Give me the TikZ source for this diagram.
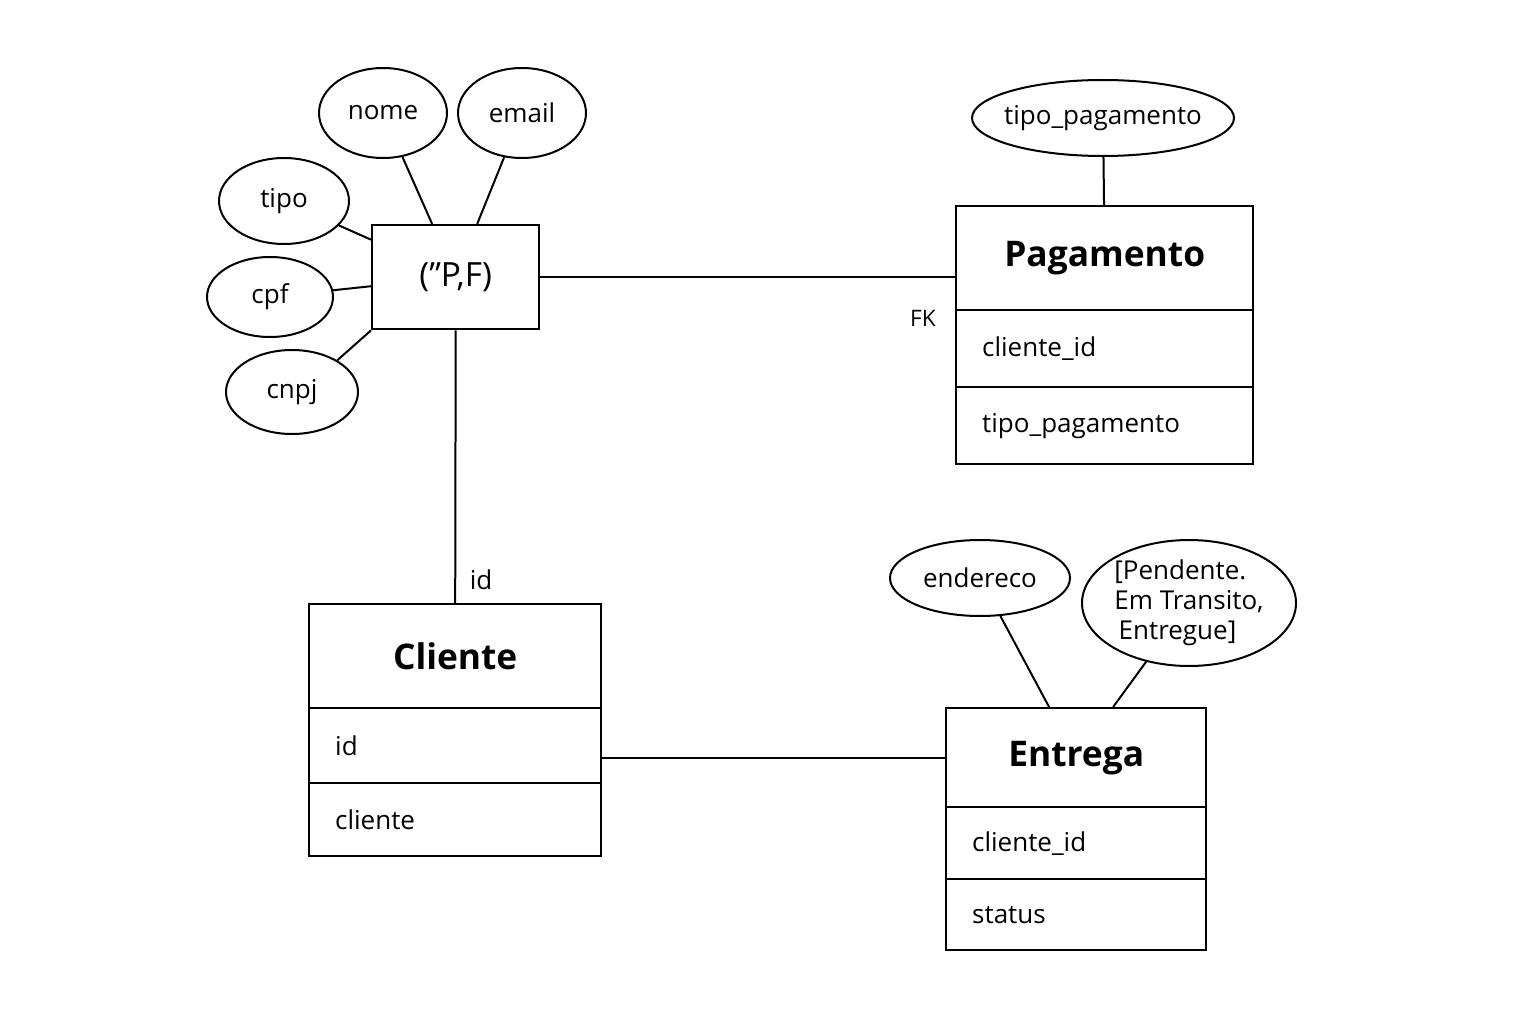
\documentclass[tikz,border=0pt]{standalone}
\usepackage{fontspec}
\setmainfont{Open Sans}
\usetikzlibrary{shapes.geometric}

\tikzset{every picture/.style={line width=1.5pt}}
\tikzset{
  attr/.style={draw, ellipse, inner sep=0pt, font=\fontsize{19.5}{23}\selectfont},
  ent/.style={draw, rectangle, line width=1.8pt, anchor=north west, inner sep=0pt, font=\fontsize{26.5}{30}\selectfont\bfseries},
  field/.style={draw, rectangle, line width=1.8pt, anchor=north west, inner ysep=0pt, inner xsep=19.5pt, align=left, font=\fontsize{19.5}{23}\selectfont},
  tag/.style={inner sep=0.75pt, font=\fontsize{19.5}{23}\selectfont}
}

\begin{document}
\begin{tikzpicture}[x=0.75pt,y=0.75pt,yscale=-1,xscale=1]
        \useasboundingbox (0,0) rectangle (1536,1024);

        % Entidade PF
        \node[ent, font=\fontsize{25}{28}\selectfont, minimum width=125.25pt, minimum height=78pt] (pf) at (371,224) {(\symbol{34}P,F)};
        % Atributos PF
        \node[attr, minimum width=96pt, minimum height=67.5pt] (nome) at (383,113) {nome};
        \node[attr, minimum width=96pt, minimum height=67.5pt] (email) at (522,113) {email};
        \node[attr, minimum width=97.5pt, minimum height=64.5pt] (tipo) at (284,201) {tipo};
        \node[attr, minimum width=94.5pt, minimum height=60pt] (cpf) at (270,297) {cpf};
        \node[attr, minimum width=99pt, minimum height=63pt] (cnpj) at (292,392) {cnpj};

        \draw (nome) -- (pf);
        \draw (email) -- (pf);
        \draw (tipo) -- (pf);
        \draw (cpf) -- (pf);
        \draw (cnpj.35) -- (pf.south west);

        % Tabela Pagamento
        \node[ent, minimum width=222.75pt, minimum height=78pt] (pag) at (955,205) {Pagamento};
        \node[field, text width=183.75pt, minimum height=57.75pt] (pag1) at (955,309) {cliente\_id};
        \node[field, text width=183.75pt, minimum height=57.75pt] (pag2) at (955,386) {tipo\_pagamento};
        \node[attr, minimum width=196.5pt, minimum height=57pt] (tpag) at (1103,118) {\makebox[100pt]{tipo\_pagamento}};
        \draw (tpag) -- (pag);
        \node[tag, font=\fontsize{17}{20}\selectfont] (fk) at (923,318) {FK};

        % Tabela Cliente
        \node[ent, minimum width=219pt, minimum height=78pt] (cli) at (308,603) {Cliente};
        \node[field, text width=180pt, minimum height=56.25pt] (cli1) at (308,707) {id};
        \node[field, text width=180pt, minimum height=54.75pt] (cli2) at (308,782) {cliente};
        \node[tag] (idlbl) at (481,580) {id};

        % Tabela Entrega
        \node[ent, minimum width=195pt, minimum height=74.25pt] (entr) at (945,707) {Entrega};
        \node[field, text width=156pt, minimum height=54pt] (entr1) at (945,806) {cliente\_id};
        \node[field, text width=156pt, minimum height=53.25pt] (entr2) at (945,878) {status};
        \node[attr, minimum width=135pt, minimum height=57pt] (ender) at (980,578) {endereco};
        \node[attr, minimum width=160.5pt, minimum height=94.5pt, align=left, font=\fontsize{19.5}{22.5}\selectfont] (stat) at (1189,603) {[Pendente.\\ Em Transito,\\ \,Entregue]};
        \draw (ender) -- (entr);
        \draw (stat) -- (entr);

        % Ligacoes
        \draw (pf.east) -- (pf.east -| pag.west);
        \draw (pf.south) -- (cli.north);
        \draw (entr.west -| cli1.east) -- (entr.west);

\end{tikzpicture}
\end{document}
